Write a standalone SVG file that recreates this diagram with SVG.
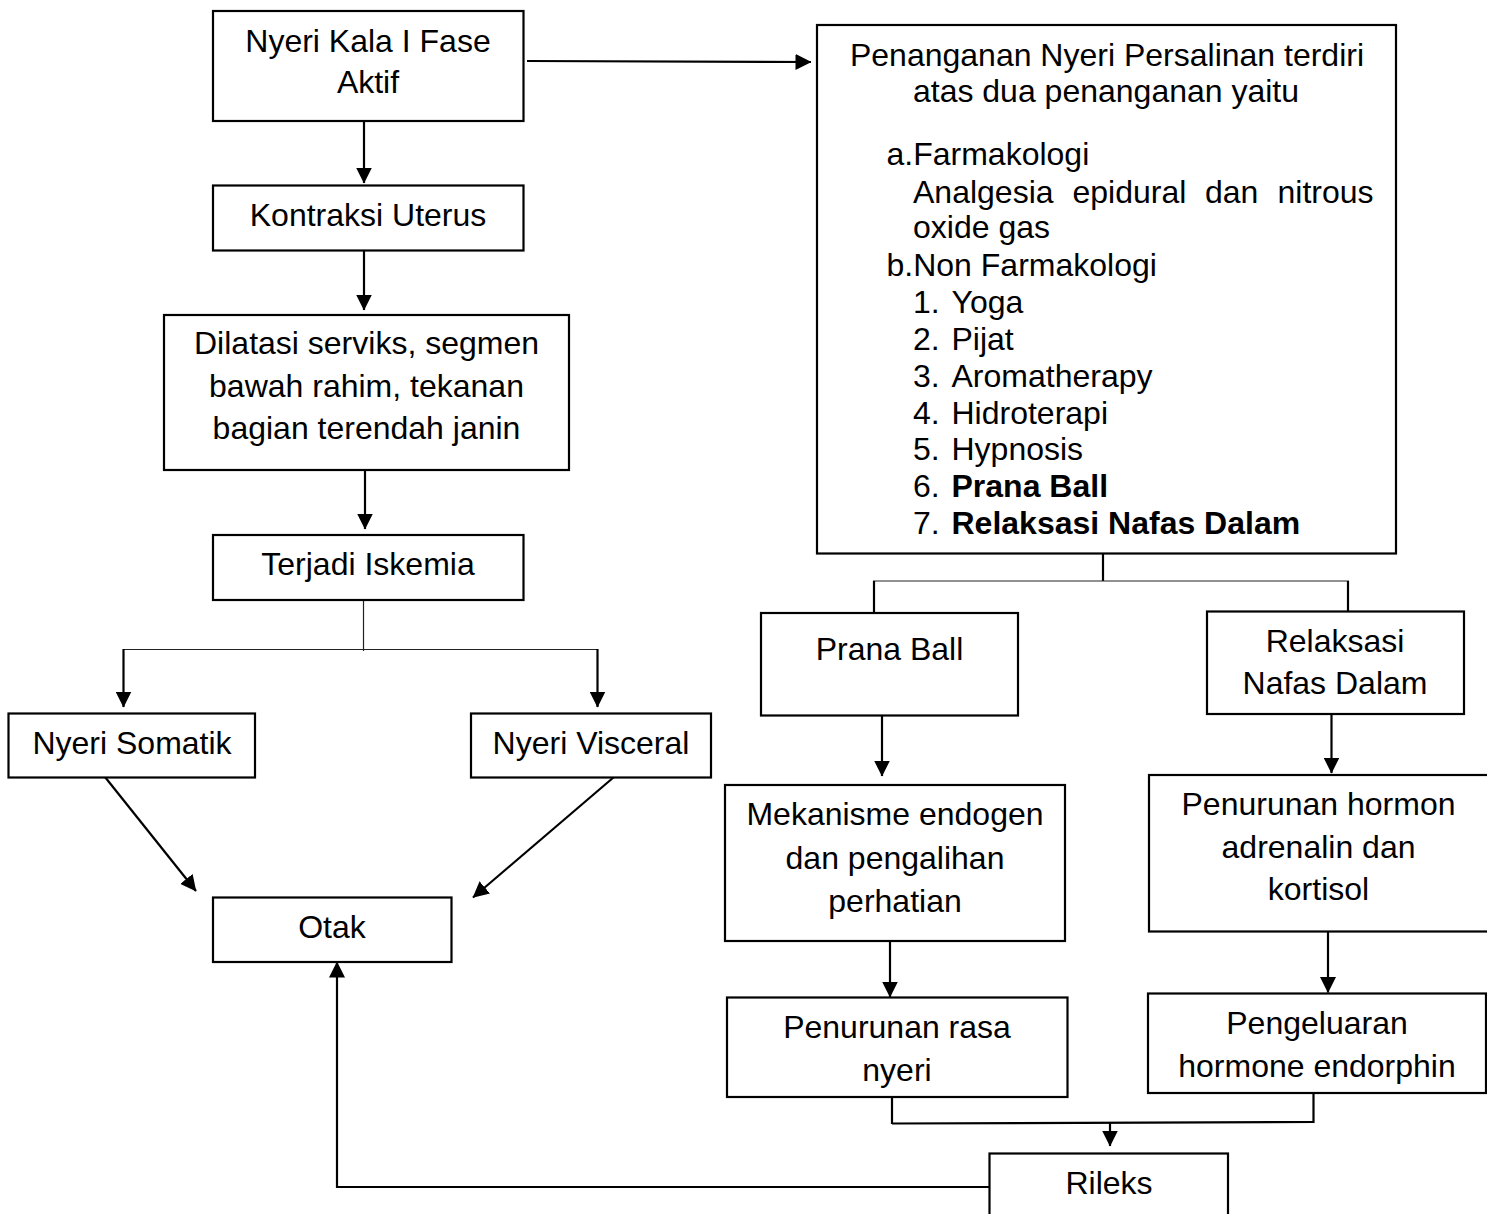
<svg xmlns="http://www.w3.org/2000/svg" width="1487" height="1214" viewBox="0 0 1487 1214">
<style>
.box{fill:#fff;stroke:#000;stroke-width:2.2}
.t{font-family:"Liberation Sans",Arial,Helvetica,sans-serif;font-size:32px;fill:#000}
.c{text-anchor:middle}
.ln{fill:none;stroke:#000;stroke-width:2.2}
.thin{fill:none;stroke:#222;stroke-width:1.2}
.ar{fill:none;stroke:#000;stroke-width:2.2;marker-end:url(#ah)}
</style>
<defs>
<marker id="ah" markerUnits="userSpaceOnUse" viewBox="0 0 16 16" markerWidth="16" markerHeight="16" refX="15.5" refY="8" orient="auto">
<path d="M0,0 L16,8 L0,16 z" fill="#000"/>
</marker>
</defs>
<rect width="1487" height="1214" fill="#fff"/>

<g id="connectors">
<line class="ar" x1="527" y1="61" x2="811" y2="62"/>
<line class="ar" x1="364" y1="121" x2="364" y2="183"/>
<line class="ar" x1="364" y1="251" x2="364" y2="310"/>
<line class="ar" x1="365" y1="470" x2="365" y2="529"/>
<line class="thin" x1="363.5" y1="600" x2="363.5" y2="651"/>
<line class="thin" x1="123" y1="649.5" x2="598" y2="649.5"/>
<line class="ar" x1="123.5" y1="649" x2="123.5" y2="707"/>
<line class="ar" x1="597.5" y1="649" x2="597.5" y2="707"/>
<line class="ar" x1="105" y1="777" x2="196" y2="891"/>
<line class="ar" x1="614" y1="777" x2="473" y2="897.5"/>
<polyline class="ar" points="993,1187 337,1187 337,962"/>
<line class="ln" x1="1103" y1="553" x2="1103" y2="581"/>
<line class="thin" x1="873" y1="581" x2="1349" y2="581"/>
<line class="ln" x1="874" y1="581" x2="874" y2="612"/>
<line class="ln" x1="1348" y1="581" x2="1348" y2="611"/>
<line class="ar" x1="882" y1="716" x2="882" y2="776"/>
<line class="ar" x1="890" y1="941" x2="890" y2="997"/>
<line class="ar" x1="1331.5" y1="714" x2="1331.5" y2="773"/>
<line class="ar" x1="1328" y1="931" x2="1328" y2="992.5"/>
<polyline class="ln" points="892,1097 892,1124 892,1123.5 1313.5,1122 1313.5,1093"/>
<line class="ar" x1="1110" y1="1122.5" x2="1110" y2="1146"/>
</g>

<g id="n-nyeri-kala">
<rect class="box" x="213" y="11" width="310.5" height="110"/>
<text class="t c" x="368" y="52">Nyeri Kala I Fase</text>
<text class="t c" x="368" y="93">Aktif</text>
</g>

<g id="n-kontraksi">
<rect class="box" x="213" y="185.5" width="310.5" height="65"/>
<text class="t c" x="368" y="226">Kontraksi Uterus</text>
</g>

<g id="n-dilatasi">
<rect class="box" x="164" y="315" width="405" height="155"/>
<text class="t c" x="366.5" y="354">Dilatasi serviks, segmen</text>
<text class="t c" x="366.5" y="397">bawah rahim, tekanan</text>
<text class="t c" x="366.5" y="439">bagian terendah janin</text>
</g>

<g id="n-iskemia">
<rect class="box" x="213" y="535" width="310.5" height="65"/>
<text class="t c" x="368" y="575">Terjadi Iskemia</text>
</g>

<g id="n-somatik">
<rect class="box" x="8.5" y="713.5" width="246.5" height="64"/>
<text class="t c" x="132" y="753.5">Nyeri Somatik</text>
</g>

<g id="n-visceral">
<rect class="box" x="471" y="713.5" width="240" height="64"/>
<text class="t c" x="591" y="753.5">Nyeri Visceral</text>
</g>

<g id="n-otak">
<rect class="box" x="213" y="897.5" width="238.5" height="64.5"/>
<text class="t c" x="332" y="938">Otak</text>
</g>

<g id="n-penanganan">
<rect class="box" x="817" y="25" width="579" height="528.5"/>
<text class="t c" x="1107" y="66">Penanganan Nyeri Persalinan terdiri</text>
<text class="t c" x="1106" y="102">atas dua penanganan yaitu</text>
<text class="t" x="886.5" y="165">a.Farmakologi</text>
<text class="t" y="202.5"><tspan x="913">Analgesia</tspan><tspan x="1072.5">epidural</tspan><tspan x="1205">dan</tspan><tspan x="1277.5">nitrous</tspan></text>
<text class="t" x="913" y="238">oxide gas</text>
<text class="t" x="886.5" y="276">b.Non Farmakologi</text>
<text class="t" y="313"><tspan x="913">1.</tspan><tspan x="951.5">Yoga</tspan></text>
<text class="t" y="350"><tspan x="913">2.</tspan><tspan x="951.5">Pijat</tspan></text>
<text class="t" y="386.5"><tspan x="913">3.</tspan><tspan x="951.5">Aromatherapy</tspan></text>
<text class="t" y="423.5"><tspan x="913">4.</tspan><tspan x="951.5">Hidroterapi</tspan></text>
<text class="t" y="460"><tspan x="913">5.</tspan><tspan x="951.5">Hypnosis</tspan></text>
<text class="t" y="497"><tspan x="913">6.</tspan><tspan x="951.5" font-weight="bold">Prana Ball</tspan></text>
<text class="t" y="533.5"><tspan x="913">7.</tspan><tspan x="951.5" font-weight="bold">Relaksasi Nafas Dalam</tspan></text>
</g>

<g id="n-prana">
<rect class="box" x="761" y="613" width="257" height="102.5"/>
<text class="t c" x="889.5" y="660">Prana Ball</text>
</g>

<g id="n-relaksasi">
<rect class="box" x="1207" y="611.5" width="257" height="102.5"/>
<text class="t c" x="1335" y="652">Relaksasi</text>
<text class="t c" x="1335" y="693.5">Nafas Dalam</text>
</g>

<g id="n-mekanisme">
<rect class="box" x="725" y="785" width="340" height="156"/>
<text class="t c" x="895" y="825">Mekanisme endogen</text>
<text class="t c" x="895" y="868.5">dan pengalihan</text>
<text class="t c" x="895" y="911.5">perhatian</text>
</g>

<g id="n-hormon">
<rect class="box" x="1149" y="775" width="340" height="156.5"/>
<text class="t c" x="1318.5" y="815">Penurunan hormon</text>
<text class="t c" x="1318.5" y="858">adrenalin dan</text>
<text class="t c" x="1318.5" y="900">kortisol</text>
</g>

<g id="n-rasa">
<rect class="box" x="727" y="997.5" width="340.5" height="99.5"/>
<text class="t c" x="897" y="1037.5">Penurunan rasa</text>
<text class="t c" x="897" y="1080.5">nyeri</text>
</g>

<g id="n-pengeluaran">
<rect class="box" x="1148" y="993.5" width="338" height="99.5"/>
<text class="t c" x="1317" y="1034">Pengeluaran</text>
<text class="t c" x="1317" y="1077">hormone endorphin</text>
</g>

<g id="n-rileks">
<rect class="box" x="989.5" y="1153.5" width="238.5" height="70"/>
<text class="t c" x="1109" y="1193.5">Rileks</text>
</g>
</svg>
